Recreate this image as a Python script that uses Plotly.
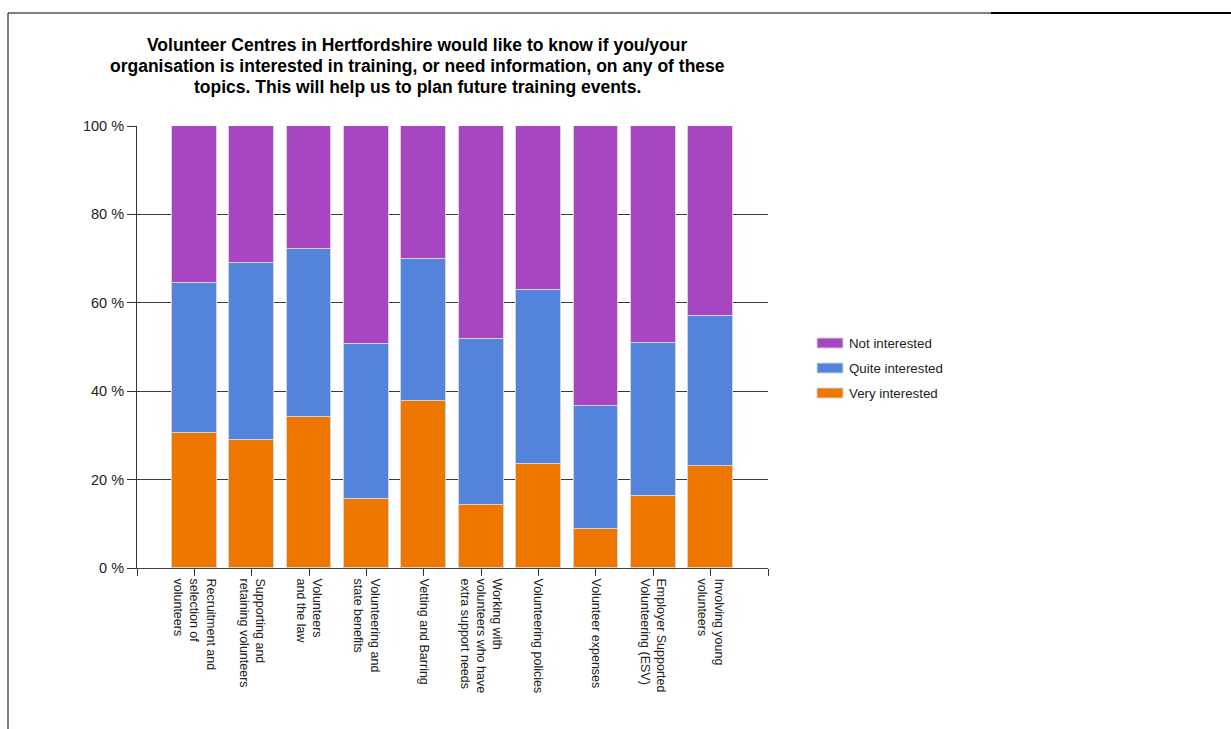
import plotly.graph_objects as go

# Survey topics (x-axis labels, multi-line)
topics = [
    "Recruitment and<br>selection of<br>volunteers",
    "Supporting and<br>retaining volunteers",
    "Volunteers<br>and the law",
    "Volunteering and<br>state benefits",
    "Vetting and Barring",
    "Working with<br>volunteers who have<br>extra support needs",
    "Volunteering policies",
    "Volunteer expenses",
    "Employer Supported<br>Volunteering (ESV)",
    "Involving young<br>volunteers",
]

# Share of respondents (%) per answer
very_interested = [30.6, 29.0, 34.2, 15.7, 37.7, 14.3, 23.5, 8.8, 16.4, 23.0]
quite_interested = [33.9, 40.0, 38.0, 35.0, 32.1, 37.6, 39.5, 27.9, 34.4, 34.1]
not_interested = [35.5, 31.0, 27.8, 49.3, 30.2, 48.1, 37.0, 63.3, 49.2, 42.9]

series_names = ["Very interested", "Quite interested", "Not interested"]
series_colors = ["#EE7700", "#5383DA", "#A845C2"]

y_ticks = [0, 20, 40, 60, 80, 100]
y_tick_text = ["0 %", "20 %", "40 %", "60 %", "80 %", "100 %"]

title_lines = [
    "Volunteer Centres in Hertfordshire would like to know if you/your",
    "organisation is interested in training, or need information, on any of these",
    "topics. This will help us to plan future training events.",
]

W, H = 1231, 729
PL, PR, PT, PB = 137, 768, 126, 568  # plot area in pixels


def px_x(px):
    return (px - PL) / (PR - PL)


def px_y(py):
    return (PB - py) / (PB - PT)


positions = list(range(len(topics)))

fig = go.Figure()
for name, vals, col in zip(series_names,
                           [very_interested, quite_interested, not_interested],
                           series_colors):
    fig.add_trace(go.Bar(
        x=positions, y=vals, name=name,
        marker=dict(color=col, line=dict(color="#D4D4D4", width=1)),
        width=0.78, showlegend=False,
    ))

# x ticks include both ends of the axis (-1 and n) without labels
x_tickvals = [-1] + positions + [len(topics)]
x_ticktext = [""] + topics + [""]

fig.update_layout(
    width=W, height=H,
    margin=dict(l=PL, r=W - PR, t=PT, b=H - PB, pad=0),
    paper_bgcolor="white", plot_bgcolor="white",
    barmode="stack",
    bargap=0,
    font=dict(family="Arial, Liberation Sans, sans-serif", size=12, color="#222"),
    xaxis=dict(
        range=[-1, len(topics)], tickmode="array",
        tickvals=x_tickvals, ticktext=x_ticktext,
        tickangle=90, ticks="outside", ticklen=7, tickcolor="#333", tickwidth=1,
        showline=True, linecolor="#444", linewidth=1,
        showgrid=False, zeroline=False,
        tickfont=dict(size=12.5, color="#222"),
    ),
    yaxis=dict(
        range=[0, 100], tickmode="array",
        tickvals=y_ticks, ticktext=y_tick_text,
        ticks="outside", ticklen=9, tickcolor="#333", tickwidth=1,
        showline=True, linecolor="#333", linewidth=1,
        showgrid=True, gridcolor="#3a3a3a", gridwidth=1,
        zeroline=False,
        tickfont=dict(size=14.5, color="#222"),
    ),
)

# Chart title, one annotation per line for tight line spacing
for i, line in enumerate(title_lines):
    fig.add_annotation(
        text="<b>" + line + "</b>",
        xref="paper", yref="paper", x=px_x(417), y=px_y(45 + 21 * i),
        xanchor="center", yanchor="middle", showarrow=False,
        font=dict(size=17.5, color="#000"),
    )

# Legend (top entry is the top stack segment)
legend_rows = [343, 368, 393]
for row_y, name, col in zip(legend_rows, series_names[::-1], series_colors[::-1]):
    fig.add_shape(type="rect", xref="paper", yref="paper",
                  x0=px_x(817), x1=px_x(843), y0=px_y(row_y - 5), y1=px_y(row_y + 5),
                  fillcolor=col, line=dict(color="#D4D4D4", width=1))
    fig.add_annotation(text=name, xref="paper", yref="paper",
                       x=px_x(847), y=px_y(row_y), xanchor="left", yanchor="middle",
                       showarrow=False, font=dict(size=13.3, color="#222"))

# Page frame
fig.add_shape(type="line", xref="paper", yref="paper",
              x0=px_x(8), x1=px_x(991), y0=px_y(13), y1=px_y(13),
              line=dict(color="#000", width=1))
fig.add_shape(type="line", xref="paper", yref="paper",
              x0=px_x(991), x1=px_x(1231), y0=px_y(13), y1=px_y(13),
              line=dict(color="#000", width=2))
fig.add_shape(type="line", xref="paper", yref="paper",
              x0=px_x(8), x1=px_x(8), y0=px_y(13), y1=px_y(729),
              line=dict(color="#000", width=1))

fig.write_html("out.html")
